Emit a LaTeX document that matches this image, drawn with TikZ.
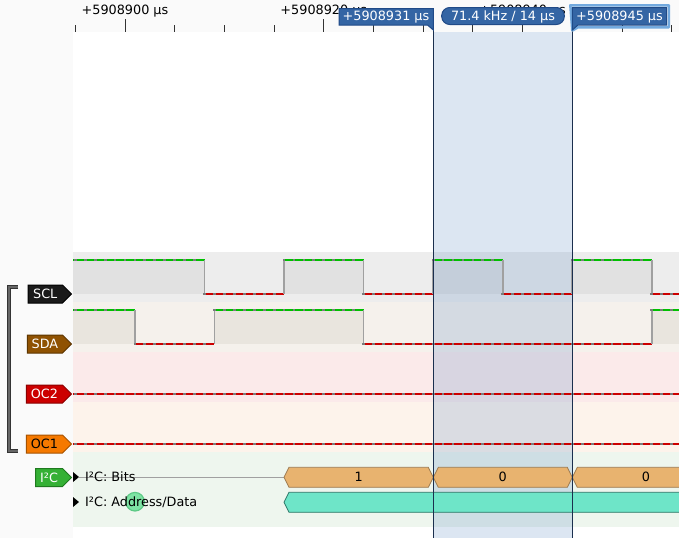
\documentclass[tikz,border=0pt]{standalone}
\usepackage{fontspec}
\setmainfont{DejaVu Sans}
\definecolor{panel}{HTML}{FAFAFA}
\definecolor{sclband}{HTML}{EDEDED}
\definecolor{sclhi}{HTML}{E1E1E1}
\definecolor{sdaband}{HTML}{F5F1EC}
\definecolor{sdahi}{HTML}{E9E5DE}
\definecolor{oc2band}{HTML}{FBEAEA}
\definecolor{oc1band}{HTML}{FDF3EB}
\definecolor{decband}{HTML}{EEF6EE}
\definecolor{curfill}{RGB}{80,130,190}
\definecolor{curline}{HTML}{1B2F4E}
\definecolor{hi}{HTML}{00C000}
\definecolor{lo}{HTML}{CC0000}
\definecolor{edgec}{HTML}{A0A0A0}
\definecolor{dotc}{HTML}{7C7C7C}
\definecolor{bitfill}{HTML}{E8B36F}
\definecolor{bitdraw}{HTML}{9C7A50}
\definecolor{adfill}{HTML}{6EE5C8}
\definecolor{addraw}{HTML}{2B7565}
\definecolor{lblfill}{HTML}{3465A4}
\definecolor{lbldraw}{HTML}{204A87}
\definecolor{glow}{HTML}{72A9DE}
\definecolor{brackd}{HTML}{333333}
\definecolor{brackl}{HTML}{666666}
\definecolor{annc}{HTML}{7DE3A3}
\definecolor{anncd}{HTML}{5CC985}
\definecolor{rowc}{HTML}{A0A0A0}
\definecolor{sclf}{HTML}{1A1A1A}
\definecolor{scld}{HTML}{000000}
\definecolor{sdaf}{HTML}{8F5202}
\definecolor{sdad}{HTML}{5C3500}
\definecolor{oc2f}{HTML}{CC0000}
\definecolor{oc2d}{HTML}{8A0000}
\definecolor{oc1f}{HTML}{F57900}
\definecolor{oc1d}{HTML}{A65200}
\definecolor{i2cf}{HTML}{35B035}
\definecolor{i2cd}{HTML}{1F7A1F}

\newcommand\tracefill[4]{%
  \foreach \sa/\sb/\lv in {#4}{%
    \ifnum\lv=1
      \pgfmathsetmacro\xa{125+9.94*\sa}%
      \pgfmathsetmacro\xb{125+9.94*\sb}%
      \fill[#3] (\xa,#1) rectangle (\xb,#2);
    \fi
  }}
\newcommand\tracelines[3]{%
  \foreach \sa/\sb/\lv [count=\ci] in {#3}{%
    \pgfmathsetmacro\xa{125+9.94*\sa}%
    \pgfmathsetmacro\xb{125+9.94*\sb}%
    \ifnum\ci>1 \draw[edgeline] (\xa,#1) -- (\xa,#2); \fi
    \ifnum\lv=1 \def\yy{#1}\def\cc{hi}\else\def\yy{#2}\def\cc{lo}\fi
    \draw[sigline,\cc] (\xa,\yy) -- (\xb,\yy);
    \pgfmathtruncatemacro\ta{max(\sa,-5)}%
    \pgfmathtruncatemacro\tb{\sb-1}%
    \foreach \t in {\ta,...,\tb}{%
      \pgfmathsetmacro\xt{125+9.94*\t}%
      \fill[dotc] (\xt-1.4,\yy-1.4) rectangle (\xt+1.4,\yy+1.4);
    }
  }}
\newcommand\hexa[5]{%
  \pgfmathsetmacro\ym{(#3+#4)/2}%
  \filldraw[#5] (#1,\ym) -- (#1+5,#3) -- (#2-5,#3) -- (#2,\ym) -- (#2-5,#4) -- (#1+5,#4) -- cycle;}
\newcommand\sigtag[7]{%
  \filldraw[fill=#4, draw=#5, line width=1] (#2,#3-9) -- (62.5,#3-9) -- (71.5,#3) -- (62.5,#3+9) -- (#2,#3+9) -- cycle;
  \node[txt, text=#6, anchor=base] (#1) at ({(#2+62.5)/2},#3+4.6) {#7};}

\begin{document}
\begin{tikzpicture}[x=1pt,y=-1pt,
  txt/.style={font=\fontsize{12.8}{15}\selectfont, inner sep=0pt},
  sigline/.style={line width=1.3pt},
  edgeline/.style={line width=1.8pt, edgec},
  tick/.style={line width=1pt, black!80},
  bitstyle/.style={fill=bitfill, draw=bitdraw, line width=0.8pt},
  adstyle/.style={fill=adfill, draw=addraw, line width=0.8pt},
  curl/.style={curline, line width=1pt}]
\useasboundingbox (0,0) rectangle (679,538);
\begin{scope}
\clip (0,0) rectangle (679,538);
% backgrounds
\fill[panel] (0,0) rectangle (679,538);
\fill[white] (73,32) rectangle (679,538);
\fill[sclband] (73,252) rectangle (679,302);
\fill[sdaband] (73,302) rectangle (679,352);
\fill[oc2band] (73,352) rectangle (679,402);
\fill[oc1band] (73,402) rectangle (679,452);
\fill[decband] (73,452) rectangle (679,527);
% trace fills
\begin{scope}
\clip (73,32) rectangle (679,538);
\tracefill{260}{294}{sclhi}{-7/8/1, 8/16/0, 16/24/1, 24/31/0, 31/38/1, 38/45/0, 45/53/1, 53/57/0}
\tracefill{310}{344}{sdahi}{-7/1/1, 1/9/0, 9/24/1, 24/53/0, 53/57/1}
% cursor region
\fill[curfill, opacity=0.2] (433.3,32) rectangle (572.3,538);
% traces
\tracelines{260}{294}{-7/8/1, 8/16/0, 16/24/1, 24/31/0, 31/38/1, 38/45/0, 45/53/1, 53/57/0}
\tracelines{310}{344}{-7/1/1, 1/9/0, 9/24/1, 24/53/0, 53/57/1}
\tracelines{360}{394}{-7/57/0}
\tracelines{410}{444}{-7/57/0}
% decoder rows
\draw[rowc, line width=1pt] (79,477) -- (284,477);
\filldraw[fill=annc, draw=anncd, line width=1.2pt] (135,501.7) circle (9.3);
\node[txt, anchor=base west] (rowbits) at (85,481.6) {I²C: Bits};
\node[txt, anchor=base west] (rowad) at (85,506.6) {I²C: Address/Data};
\hexa{284}{433.3}{467.3}{487.3}{bitstyle}
\hexa{433.3}{572.3}{467.3}{487.3}{bitstyle}
\hexa{572.3}{720}{467.3}{487.3}{bitstyle}
\node[txt, anchor=base] (bit1) at (358.6,481.6) {1};
\node[txt, anchor=base] (bit2) at (502.8,481.6) {0};
\node[txt, anchor=base] (bit3) at (646,481.6) {0};
\hexa{284}{900}{492.3}{512.3}{adstyle}
\end{scope}
\fill[black] (73,472) -- (79,477) -- (73,482) -- cycle;
\fill[black] (73,497) -- (79,502) -- (73,507) -- cycle;
% cursor lines
\draw[curl] (433.3,30) -- (433.3,538);
\draw[curl] (572.3,30) -- (572.3,538);
% ruler
\foreach \k in {-1,...,11}{%
  \pgfmathsetmacro\xk{125+49.7*\k}%
  \pgfmathtruncatemacro\m{mod(\k+4,4)}%
  \ifnum\m=0 \draw[tick] (\xk,19) -- (\xk,31.5); \else \draw[tick] (\xk,25) -- (\xk,31.5); \fi
}
\node[txt, anchor=base] (r0) at (125,14) {+5908900 µs};
\node[txt, anchor=base] (r1) at (323.8,14) {+5908920 µs};
\node[txt, anchor=base] (r2) at (522.6,14) {+5908940 µs};
\node[txt, anchor=base] (r3) at (721.4,14) {+5908960 µs};
% cursor labels
\filldraw[fill=lblfill, draw=lbldraw, line width=1pt] (339,8.5) -- (433.3,8.5) -- (433.3,30) -- (427.5,25) -- (339,25) -- cycle;
\node[txt, text=white, anchor=base] (c1) at (386,20.8) {+5908931 µs};
\filldraw[fill=lblfill, draw=lbldraw, line width=1pt, rounded corners=8pt] (441.7,7.5) rectangle (564.3,24.5);
\node[txt, text=white, anchor=base] (pill) at (503,20.8) {71.4 kHz / 14 µs};
\draw[glow, line width=2.5pt, line join=round] (572.3,30.5) -- (570.3,5.3) -- (668.8,5.3) -- (668.8,27.3) -- (578,27.3) -- cycle;
\filldraw[fill=lblfill, draw=lbldraw, line width=1pt] (572.3,30) -- (572.3,7.5) -- (666.5,7.5) -- (666.5,25) -- (578,25) -- cycle;
\node[txt, text=white, anchor=base] (c2) at (619.5,20.8) {+5908945 µs};
% left panel
\draw[brackd, line width=4.4pt] (18,287) -- (9,287) -- (9,451) -- (18,451);
\draw[brackl, line width=2.4pt] (17.5,287) -- (9,287) -- (9,451) -- (17.5,451);
\sigtag{scl}{28}{294}{sclf}{scld}{white}{SCL}
\sigtag{sda}{27.3}{344}{sdaf}{sdad}{white}{SDA}
\sigtag{oc2}{26.3}{394}{oc2f}{oc2d}{white}{OC2}
\sigtag{oc1}{26.3}{444}{oc1f}{oc1d}{black}{OC1}
\sigtag{i2c}{35.7}{477.5}{i2cf}{i2cd}{white}{I²C}
\end{scope}
\end{tikzpicture}
\end{document}
